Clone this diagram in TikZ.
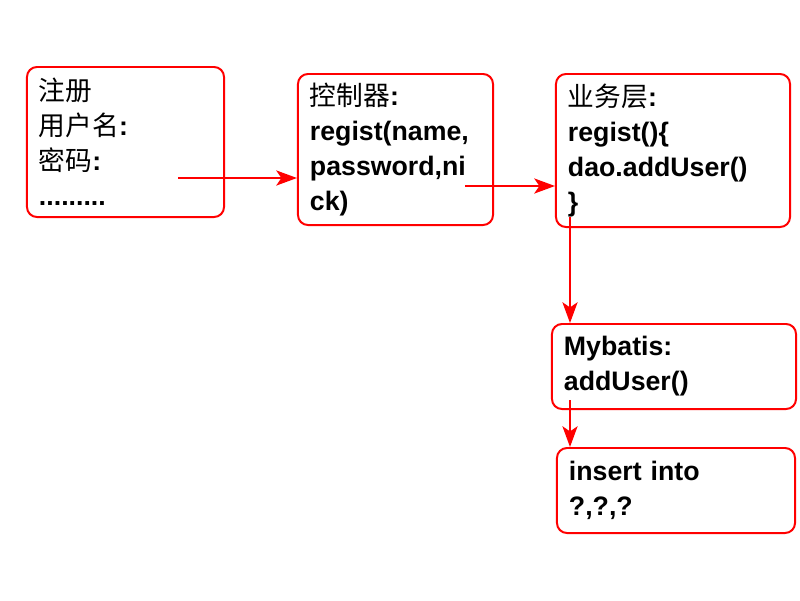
\documentclass[tikz,border=0pt]{standalone}
\usepackage{fontspec}
\setmainfont{Liberation Sans}
\newfontfamily\cjk{Noto Sans CJK SC}
\usetikzlibrary{arrows.meta}

\tikzset{
    layer/.style={draw=red, line width=1.4pt, rounded corners=0.25cm, align=left,
        inner xsep=0.3cm, inner ysep=0pt, font=\fontsize{19}{24.8}\selectfont\bfseries},
    flow/.style={-{Stealth[length=5.2mm, width=3.8mm, inset=1.3mm]}, draw=red, fill=red, line width=1pt}
}
\newcommand{\zh}[1]{{\cjk\mdseries #1}}

\begin{document}
\begin{tikzpicture}[x=0.025cm, y=-0.025cm]
    \useasboundingbox (0,0) rectangle (800,600);
    \fill[white] (0,0) rectangle (800,600);

    \node[layer, text width=4.325cm, minimum height=3.75cm] (form) at (125.5,142)
        {\zh{注册}\\ \zh{用户名}:\\ \zh{密码}:\\ .........};
    \node[layer, text width=4.275cm, minimum height=3.775cm] (controller) at (395.5,149.5)
        {\zh{控制器}:\\ regist(name,\\ password,ni\\ ck)};
    \node[layer, text width=5.25cm, minimum height=3.825cm] (service) at (673,150.5)
        {\zh{业务层}:\\ regist()\{\\ dao.addUser()\\ \}};
    \node[layer, text width=5.5cm, minimum height=2.125cm] (mybatis) at (674,366.5)
        {Mybatis:\\ addUser()};
    \node[layer, text width=5.35cm, minimum height=2.125cm] (sql) at (676,490.5)
        {insert into\\ ?,?,?};

    % arrows start inside the boxes
    \coordinate (s1) at (178,178);
    \coordinate (s2) at (465,186);
    \coordinate (s3) at (570,217);
    \coordinate (s4) at (570,400);

    \draw[flow] (s1) -- (s1 -| controller.west);
    \draw[flow] (s2) -- (s2 -| service.west);
    \draw[flow] (s3) -- (s3 |- mybatis.north);
    \draw[flow] (s4) -- (s4 |- sql.north);
\end{tikzpicture}
\end{document}
